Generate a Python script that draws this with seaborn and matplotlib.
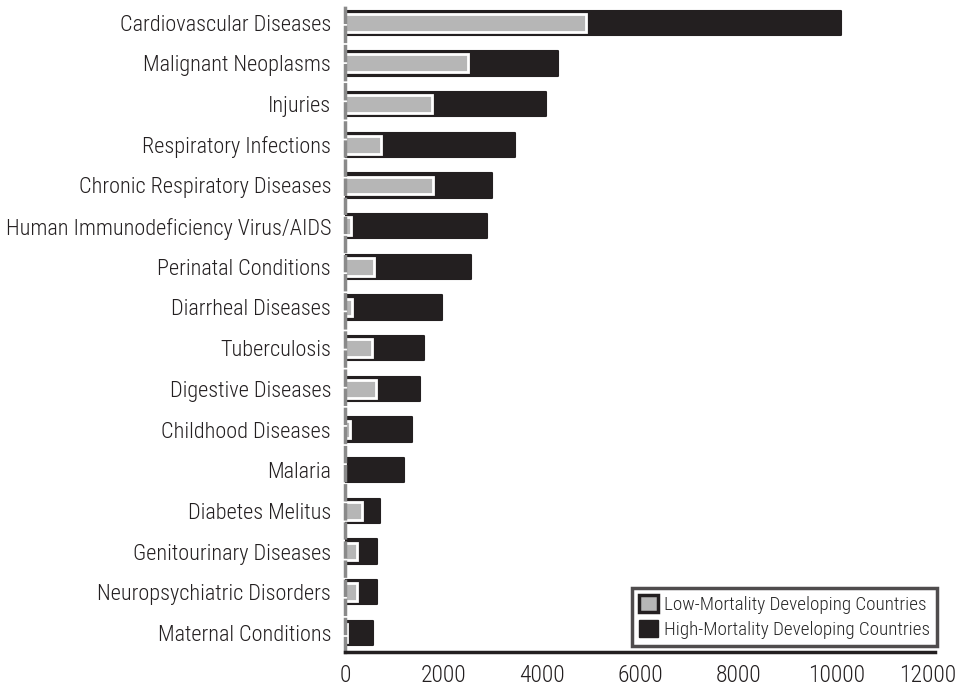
import pandas as pd
import seaborn as sns
import matplotlib.pyplot as plt
import matplotlib.transforms as mtransforms
from matplotlib.patches import Patch

# causes of death, top to bottom
causes = ['Cardiovascular Diseases', 'Malignant Neoplasms', 'Injuries',
          'Respiratory Infections', 'Chronic Respiratory Diseases',
          'Human Immunodeficiency Virus/AIDS', 'Perinatal Conditions',
          'Diarrheal Diseases', 'Tuberculosis', 'Digestive Diseases',
          'Childhood Diseases', 'Malaria', 'Diabetes Melitus',
          'Genitourinary Diseases', 'Neuropsychiatric Disorders',
          'Maternal Conditions']
high_mortality = [10080, 4330, 4090, 3450, 2990, 2890, 2570, 1970,
                  1610, 1520, 1360, 1200, 720, 660, 660, 570]
low_mortality = [4900, 2510, 1770, 730, 1780, 130, 590, 140,
                 550, 630, 100, 0, 340, 240, 240, 40]

xticks = [0, 2000, 4000, 6000, 8000, 10000, 12000]

sns.set_style('white')
plt.rcParams['font.family'] = ['Roboto Condensed', 'DejaVu Sans']
plt.rcParams['font.weight'] = 300

df = pd.DataFrame({'cause': causes, 'high': high_mortality, 'low': low_mortality})

fig = plt.figure(figsize=(9.57, 6.94), dpi=100)
ax = fig.add_axes([0.3605, 0.0605, 0.6165, 0.9325])

sns.barplot(data=df, y='cause', x='high', orient='h', color='#231f20',
            width=0.6, saturation=1, edgecolor='#231f20', linewidth=1.5,
            joinstyle='round', ax=ax)
sns.barplot(data=df, y='cause', x='low', orient='h', color='#b6b6b6',
            width=0.44, saturation=1, edgecolor='white', linewidth=2, ax=ax)

ax.set_xlim(0, 12000)
ax.set_ylim(15.47, -0.44)
ax.set_xticks(xticks)
ax.set_xticklabels([str(t) for t in xticks])
ax.set_xlabel('')
ax.set_ylabel('')
ax.tick_params(axis='y', length=0, labelsize=16, pad=10, colors='#231f20')
ax.tick_params(axis='x', length=5, width=2.5, direction='inout',
               labelsize=17, pad=6, colors='#231f20')

# keep the last tick label inside the figure
last = ax.get_xticklabels()[-1]
last.set_transform(last.get_transform() +
                   mtransforms.ScaledTranslation(-7 / 100, 0, fig.dpi_scale_trans))

for s in ['top', 'right']:
    ax.spines[s].set_visible(False)
ax.spines['bottom'].set_color('#231f20')
ax.spines['bottom'].set_linewidth(2.5)
ax.spines['left'].set_color('#8a8a8a')
ax.spines['left'].set_linewidth(2.5)
ax.spines['left'].set_linestyle((0, (4, 1.5)))

handles = [Patch(facecolor='#b6b6b6', edgecolor='#231f20', linewidth=2.5),
           Patch(facecolor='#231f20', edgecolor='#231f20')]
leg = ax.legend(handles, ['Low-Mortality Developing Countries',
                          'High-Mortality Developing Countries'],
                loc='lower right', bbox_to_anchor=(1.003, 0.01),
                fontsize=13.8, frameon=True, fancybox=False,
                handlelength=1.0, handleheight=1.0, handletextpad=0.3,
                borderpad=0.35, labelspacing=0.3, borderaxespad=0)
leg.get_frame().set_edgecolor('#231f20')
leg.get_frame().set_linewidth(2.5)

fig.savefig('out.png', dpi=100)
